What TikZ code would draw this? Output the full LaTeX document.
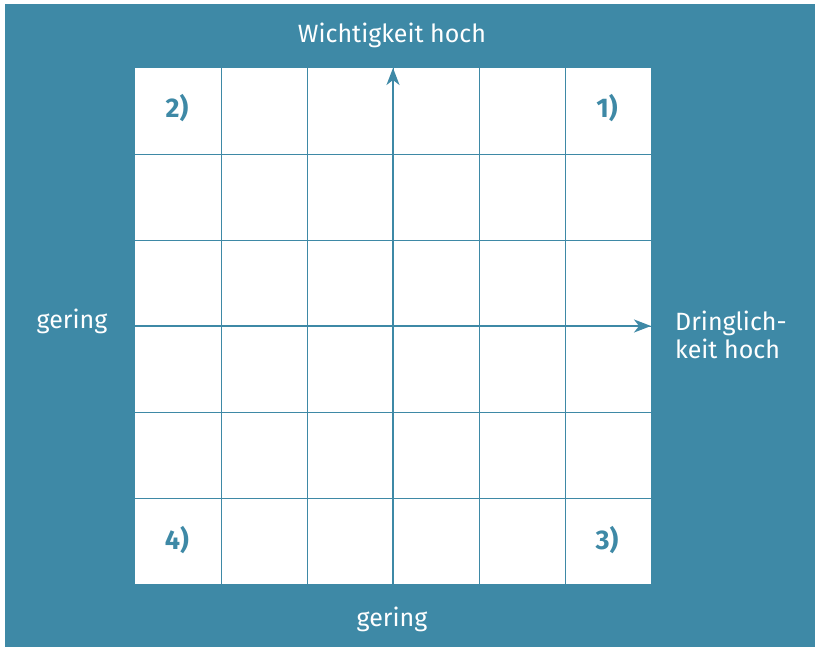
\documentclass[tikz,border=0pt]{standalone}
\usepackage{fontspec}
\setmainfont{Fira Sans}
\usetikzlibrary{arrows.meta}
\definecolor{teal1}{RGB}{62,137,166}
\begin{document}
\begin{tikzpicture}[x=1pt,y=-1pt,
  gridline/.style={draw=teal1,line width=0.9pt},
  axis/.style={draw=teal1,line width=1.8pt,-{Stealth[length=17pt,width=13pt,inset=5pt]}},
  lbl/.style={text=white,font=\fontsize{25}{28}\selectfont,inner sep=0pt},
  num/.style={text=teal1,font=\fontsize{27}{30}\selectfont\bfseries,inner sep=0pt}]
\useasboundingbox (0,0) rectangle (819,647);
\fill[white] (0,0) rectangle (819,647);
\fill[teal1] (5,4) rectangle (815,647);
\fill[white] (135,68) rectangle (651,584);
\foreach \i in {1,...,5} {
  \draw[gridline] (135+86*\i,68) -- (135+86*\i,584);
  \draw[gridline] (135,68+86*\i) -- (651,68+86*\i);
}
\coordinate (vb) at (393,584);
\coordinate (vt) at (393,68);
\coordinate (hl) at (135,326);
\coordinate (hr) at (651,326);
\draw[axis] (vb) -- (vt);
\draw[axis] (hl) -- (hr);
\node[lbl] (top) at (392,35) {Wichtigkeit hoch};
\node[lbl] (left) at (72,321) {gering};
\node[lbl] (bottom) at (392,619) {gering};
\node[lbl,align=left,anchor=west] (right) at (675,335) {Dringlich-\\keit hoch};
\node[num] (n2) at (177,108) {2)};
\node[num] (n1) at (607,108) {1)};
\node[num] (n4) at (177,540) {4)};
\node[num] (n3) at (607,540) {3)};
\end{tikzpicture}
\end{document}
